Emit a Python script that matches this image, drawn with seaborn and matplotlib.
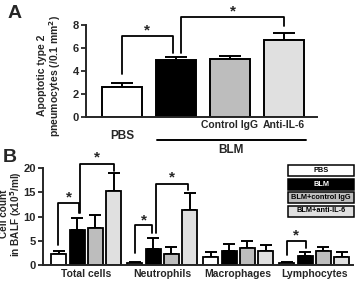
import matplotlib
matplotlib.use("Agg")
import matplotlib.pyplot as plt
from matplotlib.patches import Rectangle
from matplotlib.transforms import blended_transform_factory
import numpy as np
import pandas as pd
import seaborn as sns

# panel A: apoptotic type 2 pneumocytes
groups_a = ["PBS", "BLM", "Control IgG", "Anti-IL-6"]
apoptotic = [2.64, 4.96, 5.04, 6.7]
apoptotic_err = [0.36, 0.29, 0.26, 0.57]

# panel B: BALF cell counts (x10^5/ml)
cell_types = ["Total cells", "Neutrophils", "Macrophages", "Lymphocytes"]
groups_b = ["PBS", "BLM", "BLM+control IgG", "BLM+anti-IL-6"]
pbs_counts = [2.3, 0.5, 1.7, 0.5]
pbs_err = [0.6, 0.15, 1.0, 0.15]
blm_counts = [7.2, 3.4, 2.9, 1.9]
blm_err = [2.6, 2.1, 1.5, 0.8]
igg_counts = [7.6, 2.3, 3.6, 2.9]
igg_err = [2.8, 1.4, 1.4, 0.8]
antiil6_counts = [15.2, 11.4, 2.9, 1.7]
antiil6_err = [3.7, 3.5, 1.2, 1.0]

bar_colors = ["white", "black", "#bdbdbd", "#e0e0e0"]

sns.set_style("ticks")
plt.rcParams["font.family"] = ["Liberation Sans", "DejaVu Sans"]
plt.rcParams["font.weight"] = "bold"
plt.rcParams["axes.linewidth"] = 1.4
plt.rcParams["xtick.major.size"] = 0
plt.rcParams["ytick.major.size"] = 3.5
plt.rcParams["ytick.major.width"] = 1.3
plt.rcParams["ytick.major.pad"] = 1.5

fig = plt.figure(figsize=(3.58, 2.82), dpi=100)
ax_a = fig.add_axes([0.240, 0.585, 0.645, 0.326])
ax_b = fig.add_axes([0.120, 0.060, 0.866, 0.344])


def add_errors(ax, errs, capsize):
    bars = sorted(ax.patches, key=lambda p: p.get_x())
    xs = [p.get_x() + p.get_width() / 2 for p in bars]
    tops = [p.get_height() for p in bars]
    ax.errorbar(xs, tops, yerr=[np.zeros(len(errs)), errs], fmt="none",
                ecolor="black", elinewidth=1.4, capsize=capsize,
                capthick=1.4, zorder=1)


def bracket(ax, x1, x2, y1, y2, top, star_y, star_x=None):
    ax.plot([x1, x1, x2, x2], [y1, top, top, y2], color="black",
            lw=1.3, clip_on=False)
    if star_x is None:
        star_x = (x1 + x2) / 2
    ax.text(star_x, star_y, "*", ha="center", va="center", fontsize=11,
            fontweight="bold")


# ---- panel A ----
sns.barplot(x=groups_a, y=apoptotic, hue=groups_a, palette=bar_colors,
            edgecolor="black", linewidth=1.4, width=0.75, legend=False,
            ax=ax_a, zorder=2)
add_errors(ax_a, apoptotic_err, 8)
ax_a.set_ylim(0, 8)
ax_a.set_xlim(-0.67, 3.61)
ax_a.set_yticks([0, 2, 4, 6, 8])
ax_a.tick_params(axis="y", labelsize=8)
ax_a.set_xticks(range(4))
ax_a.set_xticklabels(["", "", "Control IgG", "Anti-IL-6"], fontsize=7.5,
                     fontweight="bold")
ax_a.tick_params(axis="x", pad=2)
ax_a.set_ylabel("Apoptotic type 2\npneumocytes (/0.1 mm$^\\mathbf{2}$)",
                fontsize=7.5, fontweight="bold", linespacing=1.0)
ax_a.yaxis.set_label_coords(-0.1, 0.45)
sns.despine(ax=ax_a)

tr_a = blended_transform_factory(ax_a.transData, ax_a.transAxes)
ax_a.text(0, -0.21, "PBS", transform=tr_a, ha="center", va="center",
          fontsize=8.5, fontweight="bold")
ax_a.plot([0.65, 3.4], [-0.25, -0.25], transform=tr_a, color="black",
          lw=1.4, clip_on=False)
ax_a.text(2.02, -0.36, "BLM", transform=tr_a, ha="center", va="center",
          fontsize=8.5, fontweight="bold")

bracket(ax_a, 0, 0.94, 3.74, 5.6, 7.04, 7.55)
bracket(ax_a, 1.1, 3.0, 5.6, 7.9, 8.67, 9.15)

# ---- panel B ----
df_b = pd.DataFrame({
    "cell": np.repeat(cell_types, 4),
    "group": groups_b * 4,
    "count": [v for quad in zip(pbs_counts, blm_counts, igg_counts, antiil6_counts) for v in quad],
})
errs_b = [v for quad in zip(pbs_err, blm_err, igg_err, antiil6_err) for v in quad]

sns.barplot(data=df_b, x="cell", y="count", hue="group", palette=bar_colors,
            edgecolor="black", linewidth=1.3, width=0.96, gap=0.17,
            legend=False, ax=ax_b, zorder=2)
add_errors(ax_b, errs_b, 4.5)
ax_b.set_ylim(0, 20)
ax_b.set_xlim(-0.57, 3.51)
ax_b.set_yticks([0, 5, 10, 15, 20])
ax_b.tick_params(axis="y", labelsize=8)
ax_b.tick_params(axis="x", labelsize=7.5, pad=3)
for lbl in ax_b.get_xticklabels():
    lbl.set_fontweight("bold")
ax_b.set_xlabel("")
ax_b.set_ylabel("Cell count\nin BALF (x10$^\\mathbf{5}$/ml)", fontsize=7.2,
                fontweight="bold", linespacing=0.95)
ax_b.yaxis.set_label_coords(-0.062, 0.53)
sns.despine(ax=ax_b)

bracket(ax_b, -0.37, -0.09, 4.1, 10.7, 12.8, 13.9)
bracket(ax_b, -0.08, 0.37, 10.7, 19.4, 20.8, 22.1)
bracket(ax_b, 0.645, 0.87, 2.5, 6.6, 8.2, 9.3)
bracket(ax_b, 0.92, 1.34, 6.6, 15.5, 16.7, 18.1)
bracket(ax_b, 2.64, 2.89, 2.1, 3.5, 5.0, 6.2)

# boxed legend for panel B
for i, (name, col) in enumerate(zip(groups_b, bar_colors)):
    top_px = 165 + i * 13.5
    fig.add_artist(Rectangle((288 / 358, 1 - (top_px + 11) / 282),
                             66 / 358, 11 / 282, transform=fig.transFigure,
                             facecolor=col, edgecolor="black", lw=1.1))
    fig.text(321 / 358, 1 - (top_px + 5.5) / 282, name, ha="center",
             va="center", fontsize=5.3, fontweight="bold",
             color="white" if col == "black" else "black")

fig.text(8 / 358, 1 - 14 / 282, "A", fontsize=14, fontweight="bold",
         va="center", ha="left")
fig.text(3 / 358, 1 - 157 / 282, "B", fontsize=14, fontweight="bold",
         va="center", ha="left")

fig.savefig("out.png", dpi=100)
